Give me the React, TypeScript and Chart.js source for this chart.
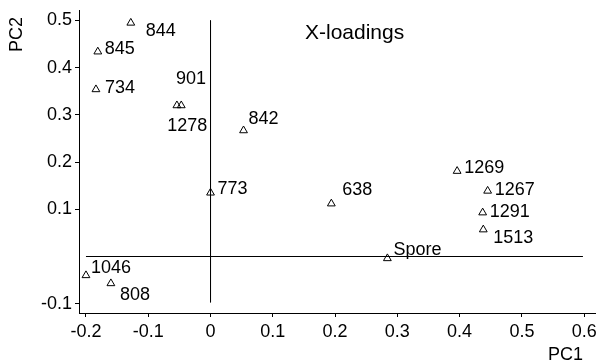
import React, { useEffect, useRef } from "react";
import { Chart, registerables } from "chart.js";

Chart.register(...registerables);

// ---- data ----
const names = ["844", "845", "734", "901", "1278", "842", "773", "638", "1269", "1267", "1291", "1513", "Spore", "1046", "808"];
const pc1 = [-0.128, -0.181, -0.184, -0.054, -0.047, 0.053, 0.0, 0.194, 0.396, 0.445, 0.437, 0.438, 0.284, -0.2, -0.16];
const pc2 = [0.495, 0.434, 0.354, 0.32, 0.32, 0.267, 0.135, 0.112, 0.181, 0.139, 0.093, 0.057, -0.004, -0.04, -0.057];

const xTicks = [-0.2, -0.1, 0, 0.1, 0.2, 0.3, 0.4, 0.5, 0.6];
const yTicks = [0.5, 0.4, 0.3, 0.2, 0.1, -0.1];

// reference lines through the origin (data coordinates)
const vLine = [{ x: 0, y: 0.5 }, { x: 0, y: -0.097 }];
const hLine = [{ x: -0.2, y: 0 }, { x: 0.598, y: 0 }];

const chartTitle = "X-loadings";
const xTitle = "PC1";
const yTitle = "PC2";

// label offsets (px) relative to each marker
const labelOffsets: Record<string, [number, number]> = {
  "844": [15, 8],
  "845": [7, -3],
  "734": [9, -1],
  "901": [-1, -26],
  "1278": [-14, 21],
  "842": [5, -11],
  "773": [7, -4],
  "638": [11, -14],
  "1269": [7, -3],
  "1267": [7, -1],
  "1291": [7, -1],
  "1513": [10, 8],
  "Spore": [6, -8],
  "1046": [5, -7],
  "808": [9, 12],
};

const FONT = "'Liberation Sans', Arial, Helvetica, sans-serif";

const labelPlugin = {
  id: "pointLabels",
  afterDatasetsDraw(chart: any) {
    const { ctx, scales } = chart;
    const xs = scales.x;
    const ys = scales.y;
    ctx.save();
    ctx.fillStyle = "#000";
    ctx.font = `18px ${FONT}`;
    ctx.textAlign = "left";
    ctx.textBaseline = "middle";
    names.forEach((n, i) => {
      const px = xs.getPixelForValue(pc1[i]);
      const py = ys.getPixelForValue(pc2[i]);
      const off = labelOffsets[n] || [7, 0];
      ctx.fillText(n, px + off[0], py + off[1]);
    });
    // chart title
    ctx.font = `21px ${FONT}`;
    ctx.fillText(chartTitle, 305, 33);
    // x axis title
    ctx.font = `18px ${FONT}`;
    ctx.textAlign = "left";
    ctx.fillText(xTitle, 548, 355);
    // y axis title rotated
    ctx.translate(17, 17);
    ctx.rotate(-Math.PI / 2);
    ctx.textAlign = "right";
    ctx.fillText(yTitle, 0, 0);
    ctx.restore();
  },
};

export default function App() {
  const ref = useRef<HTMLCanvasElement | null>(null);
  useEffect(() => {
    document.body.style.margin = "0";
    const canvas = ref.current;
    if (!canvas) return;
    const chart = new Chart(canvas, {
      type: "scatter",
      data: {
        datasets: [
          {
            type: "line",
            data: vLine,
            borderColor: "#000",
            borderWidth: 1,
            pointRadius: 0,
            showLine: true,
            fill: false,
          } as any,
          {
            type: "line",
            data: hLine,
            borderColor: "#000",
            borderWidth: 1,
            pointRadius: 0,
            showLine: true,
            fill: false,
          } as any,
          {
            data: names.map((_, i) => ({ x: pc1[i], y: pc2[i] })),
            pointStyle: "triangle",
            pointRadius: 4.5,
            borderColor: "#000",
            borderWidth: 1,
            backgroundColor: "rgba(255,255,255,0)",
          },
        ],
      },
      options: {
        animation: false,
        responsive: false,
        devicePixelRatio: 1,
        layout: { autoPadding: false, padding: { top: 10, right: 0, left: 0, bottom: 0 } },
        plugins: { legend: { display: false }, tooltip: { enabled: false } },
        scales: {
          x: {
            type: "linear",
            min: -0.2112,
            max: 0.619,
            afterFit: (s: any) => {
              s.height = 47;
              s.paddingLeft = 0;
              s.paddingRight = 0;
            },
            afterBuildTicks: (s: any) => { s.ticks = xTicks.map((v) => ({ value: v })); },
            ticks: {
              color: "#000",
              font: { family: FONT, size: 18 },
              padding: 4,
              maxRotation: 0,
              autoSkip: false,
              callback: (v: any) => String(Math.round(Number(v) * 10) / 10),
            },
            grid: { drawOnChartArea: false, drawTicks: true, tickLength: 4, color: "#000" },
            border: { display: true, color: "#000", width: 1 },
          },
          y: {
            type: "linear",
            min: -0.1197,
            max: 0.5223,
            afterFit: (s: any) => {
              s.width = 79;
              s.paddingTop = 0;
              s.paddingBottom = 0;
            },
            afterBuildTicks: (s: any) => { s.ticks = yTicks.map((v) => ({ value: v })); },
            ticks: {
              color: "#000",
              font: { family: FONT, size: 18 },
              padding: 3,
              autoSkip: false,
              callback: (v: any) => String(Math.round(Number(v) * 10) / 10),
            },
            grid: { drawOnChartArea: false, drawTicks: true, tickLength: 4, color: "#000" },
            border: { display: true, color: "#000", width: 1 },
          },
        },
      },
      plugins: [labelPlugin],
    } as any);
    return () => chart.destroy();
  }, []);
  return (
    <div style={{ width: 596, height: 360, background: "#fff" }}>
      <canvas ref={ref} width={596} height={360} style={{ display: "block" }} />
    </div>
  );
}
